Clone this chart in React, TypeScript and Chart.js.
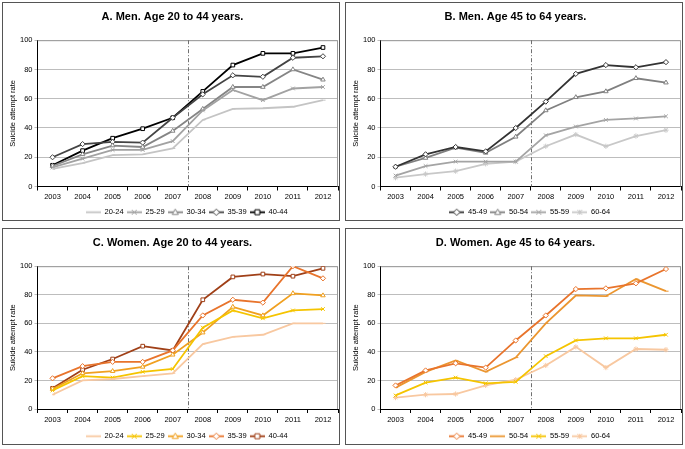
import React, { useEffect, useRef } from "react";
import { Chart, registerables } from "chart.js";
Chart.register(...registerables);

const YEARS = ["2003", "2004", "2005", "2006", "2007", "2008", "2009", "2010", "2011", "2012"];
const Y_TICKS = [0, 20, 40, 60, 80, 100];

// A. Men 20-44
const A_20_24 = [12, 16, 21.5, 22, 26, 45.5, 53, 53.5, 54.5, 59];
const A_25_29 = [13, 19, 25, 25, 31, 52, 66, 59, 67, 68];
const A_30_34 = [14, 22, 28, 27, 38, 53, 68, 68, 80, 73];
const A_35_39 = [20, 29, 30.5, 30, 47, 63, 76, 75, 88, 89];
const A_40_44 = [14.5, 24.5, 33, 39.5, 47, 65, 83, 91, 91, 95];
// B. Men 45-64
const B_45_49 = [13.5, 22, 27, 24, 40, 58, 77, 83, 81.5, 85];
const B_50_54 = [13.5, 19.5, 26.5, 23, 34, 52, 61, 65, 74, 71];
const B_55_59 = [7.5, 14, 17, 17, 17, 35, 41, 45.5, 46.5, 48];
const B_60_64 = [6, 8.5, 10.5, 15.5, 17, 27.5, 35.5, 27.5, 34.5, 38.5];
// C. Women 20-44
const C_20_24 = [10, 20, 21, 23, 25, 45.5, 50.5, 52, 60, 60];
const C_25_29 = [13, 23, 22, 26, 28, 57, 69, 63.5, 69, 70];
const C_30_34 = [14, 25, 26.5, 29.5, 38, 53.5, 71.5, 65.5, 81, 79.5];
const C_35_39 = [21.5, 30, 33, 33, 41, 65.5, 76.5, 74.5, 100, 91.5];
const C_40_44 = [14.5, 27.5, 35, 44, 41, 76.5, 92.5, 94.5, 93, 98.5];
// D. Women 45-64
const D_45_49 = [16.5, 27, 32, 29, 48, 65.5, 84, 84.5, 88, 98];
const D_50_54 = [15, 26, 34, 26, 36, 60, 79.5, 79, 91, 82.5];
const D_55_59 = [9.5, 18.5, 22, 18, 19, 37, 48, 49.5, 49.5, 52];
const D_60_64 = [8, 10, 10.5, 16.5, 20.5, 30.5, 43.5, 29, 42, 41.5];

type Series = { label: string; data: number[]; color: string; style: string };
type Panel = { title: string; series: Series[]; left: number; top: number; w: number; h: number; xh: number };

const PANELS: Panel[] = [
  {
    title: "A. Men. Age 20 to 44 years.", left: 2, top: 2, w: 338, h: 219, xh: 21,
    series: [
      { label: "20-24", data: A_20_24, color: "#c4c4c4", style: "dash" },
      { label: "25-29", data: A_25_29, color: "#a2a2a2", style: "crossRot" },
      { label: "30-34", data: A_30_34, color: "#858585", style: "triangle" },
      { label: "35-39", data: A_35_39, color: "#444444", style: "rectRot" },
      { label: "40-44", data: A_40_44, color: "#000000", style: "rect" },
    ],
  },
  {
    title: "B. Men. Age 45 to 64 years.", left: 345, top: 2, w: 338, h: 219, xh: 21,
    series: [
      { label: "45-49", data: B_45_49, color: "#333333", style: "rectRot" },
      { label: "50-54", data: B_50_54, color: "#808080", style: "triangle" },
      { label: "55-59", data: B_55_59, color: "#a4a4a4", style: "crossRot" },
      { label: "60-64", data: B_60_64, color: "#c8c8c8", style: "star" },
    ],
  },
  {
    title: "C. Women. Age 20 to 44 years.", left: 2, top: 228, w: 338, h: 217, xh: 22.5,
    series: [
      { label: "20-24", data: C_20_24, color: "#f8c8a0", style: "dash" },
      { label: "25-29", data: C_25_29, color: "#f5c400", style: "crossRot" },
      { label: "30-34", data: C_30_34, color: "#f0a020", style: "triangle" },
      { label: "35-39", data: C_35_39, color: "#e8742c", style: "rectRot" },
      { label: "40-44", data: C_40_44, color: "#a04018", style: "rect" },
    ],
  },
  {
    title: "D. Women. Age 45 to 64 years.", left: 345, top: 228, w: 338, h: 217, xh: 22.5,
    series: [
      { label: "45-49", data: D_45_49, color: "#e8742c", style: "rectRot" },
      { label: "50-54", data: D_50_54, color: "#eb9630", style: "dash" },
      { label: "55-59", data: D_55_59, color: "#f5c400", style: "crossRot" },
      { label: "60-64", data: D_60_64, color: "#f8c8a0", style: "star" },
    ],
  },
];

const FONT = "'Liberation Sans', Arial, sans-serif";

function drawMarker(ctx: CanvasRenderingContext2D, style: string, x: number, y: number, r: number) {
  ctx.beginPath();
  if (style === "rect") {
    ctx.rect(x - r, y - r, 2 * r, 2 * r);
    ctx.fill(); ctx.stroke();
  } else if (style === "rectRot") {
    ctx.moveTo(x, y - r * 1.3); ctx.lineTo(x + r * 1.3, y); ctx.lineTo(x, y + r * 1.3); ctx.lineTo(x - r * 1.3, y); ctx.closePath();
    ctx.fill(); ctx.stroke();
  } else if (style === "triangle") {
    ctx.moveTo(x, y - r * 1.3); ctx.lineTo(x + r * 1.2, y + r * 0.9); ctx.lineTo(x - r * 1.2, y + r * 0.9); ctx.closePath();
    ctx.fill(); ctx.stroke();
  } else if (style === "crossRot") {
    ctx.moveTo(x - r, y - r); ctx.lineTo(x + r, y + r); ctx.moveTo(x + r, y - r); ctx.lineTo(x - r, y + r);
    ctx.stroke();
  } else if (style === "star") {
    ctx.moveTo(x - r, y - r); ctx.lineTo(x + r, y + r); ctx.moveTo(x + r, y - r); ctx.lineTo(x - r, y + r);
    ctx.moveTo(x, y - r); ctx.lineTo(x, y + r);
    ctx.stroke();
  } else if (style === "dash") {
    ctx.moveTo(x - r, y); ctx.lineTo(x + r, y);
    ctx.stroke();
  }
}

const LEG_W = 15;

function legendImage(color: string, style: string) {
  const c = document.createElement("canvas");
  c.width = LEG_W; c.height = 9;
  const ctx = c.getContext("2d")!;
  ctx.strokeStyle = color; ctx.lineWidth = 1.8;
  ctx.beginPath(); ctx.moveTo(0, 4.5); ctx.lineTo(LEG_W, 4.5); ctx.stroke();
  ctx.fillStyle = "#fff"; ctx.lineWidth = 1;
  drawMarker(ctx, style, LEG_W / 2, 4.5, 2.5);
  return c;
}

const overlayPlugin = {
  id: "overlay",
  beforeDraw(chart: any) {
    const L = chart.legend;
    if (L && !L._centered) {
      const c = (chart.chartArea.left + chart.chartArea.right) / 2;
      const d = c - (L.left + L.right) / 2;
      L.left += d;
      L.right += d;
      L._centered = true;
    }
  },
  beforeDatasetsDraw(chart: any) {
    const { ctx, chartArea, scales } = chart;
    ctx.save();
    ctx.strokeStyle = "#9a9a9a";
    ctx.lineWidth = 1;
    ctx.beginPath();
    ctx.moveTo(chartArea.left, chartArea.top + 0.5);
    ctx.lineTo(chartArea.right - 0.5, chartArea.top + 0.5);
    ctx.lineTo(chartArea.right - 0.5, chartArea.bottom);
    ctx.stroke();
    const x = Math.round((scales.x.getPixelForValue(4) + scales.x.getPixelForValue(5)) / 2) + 0.5;
    ctx.strokeStyle = "#707070";
    ctx.setLineDash([4, 2, 1, 2]);
    ctx.beginPath();
    ctx.moveTo(x, chartArea.top);
    ctx.lineTo(x, chartArea.bottom);
    ctx.stroke();
    ctx.restore();
  },
};

function PanelChart({ panel }: { panel: Panel }) {
  const ref = useRef<HTMLCanvasElement>(null);
  useEffect(() => {
    const cw = panel.w - 2, ch = panel.h - 2;
    const canvas = ref.current!;
    const chart = new Chart(canvas, {
      type: "line",
      data: {
        labels: YEARS,
        datasets: panel.series.map((s) => ({
          label: s.label,
          data: s.data,
          borderColor: s.color,
          backgroundColor: "#ffffff",
          pointBorderColor: s.color,
          pointBackgroundColor: "#ffffff",
          pointStyle: s.style as any,
          pointRadius: 2.6,
          pointBorderWidth: 1,
          borderWidth: 1.8,
          tension: 0,
        })),
      },
      options: {
        responsive: false,
        animation: false,
        layout: { autoPadding: false, padding: { left: 4, right: 1, top: 2, bottom: -6 } },
        plugins: {
          tooltip: { enabled: false },
          title: {
            display: true,
            text: panel.title,
            color: "#000",
            font: { family: FONT, size: 11, weight: "bold" },
            padding: { top: 5, bottom: 17 },
          },
          legend: {
            position: "bottom",
            labels: {
              usePointStyle: true,
              pointStyleWidth: LEG_W,
              boxHeight: 8,
              padding: 1,
              color: "#000",
              font: { family: FONT, size: 7.5 },
              generateLabels: (c: any) =>
                c.data.datasets.map((d: any, i: number) => ({
                  text: d.label + " ",
                  pointStyle: legendImage(panel.series[i].color, panel.series[i].style),
                  fillStyle: "#fff",
                  strokeStyle: panel.series[i].color,
                  lineWidth: 0,
                  hidden: false,
                  datasetIndex: i,
                  fontColor: "#000",
                })),
            },
          },
        },
        scales: {
          x: {
            offset: true,
            afterFit: (s: any) => { s.paddingLeft = 0; s.paddingRight = 0; s.height = panel.xh; },
            grid: { offset: true, drawOnChartArea: false, drawTicks: true, tickLength: 4, color: "#000" },
            border: { color: "#000" },
            ticks: { color: "#000", font: { family: FONT, size: 7.5 }, padding: 2, maxRotation: 0 },
          },
          y: {
            min: 0,
            max: 100,
            afterBuildTicks: (s: any) => { s.ticks = Y_TICKS.map((v) => ({ value: v })); },
            grid: { color: "#bdbdbd", tickLength: 3, drawTicks: true },
            border: { color: "#000" },
            ticks: { color: "#000", font: { family: FONT, size: 7.5 }, padding: 2 },
            title: { display: true, text: "Suicide attempt rate", color: "#000", font: { family: FONT, size: 7.5 }, padding: 1 },
          },
        },
      },
      plugins: [overlayPlugin],
    });
    canvas.style.width = cw + "px";
    canvas.style.height = ch + "px";
    return () => chart.destroy();
  }, [panel]);
  return (
    <div
      style={{
        position: "absolute",
        left: panel.left,
        top: panel.top,
        width: panel.w,
        height: panel.h,
        border: "1px solid #555",
        boxSizing: "border-box",
        background: "#fff",
        overflow: "hidden",
      }}
    >
      <canvas ref={ref} width={panel.w - 2} height={panel.h - 2} style={{ display: "block" }} />
    </div>
  );
}

export default function App() {
  return (
    <div style={{ position: "fixed", left: 0, top: 0, width: 685, height: 449, background: "#fff" }}>
      {PANELS.map((p) => (
        <PanelChart key={p.title} panel={p} />
      ))}
    </div>
  );
}
